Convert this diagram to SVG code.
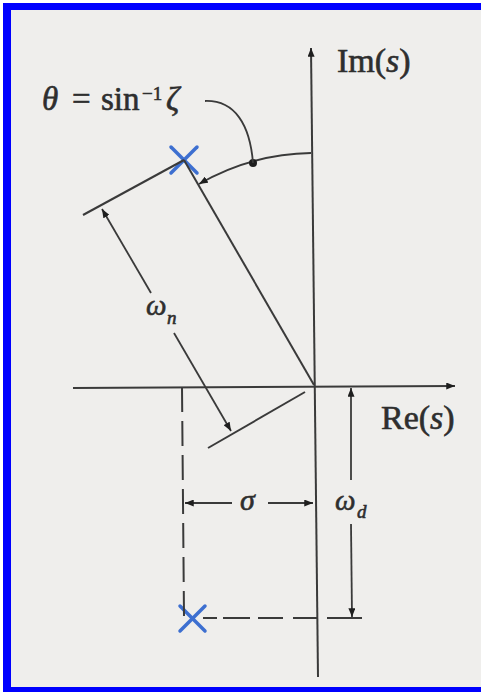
<svg xmlns="http://www.w3.org/2000/svg" width="481" height="692" viewBox="0 0 481 692">
<style>
.ln{stroke:#3a3a3a;stroke-width:2;fill:none;stroke-linecap:butt}
.dim{stroke:#3a3a3a;stroke-width:1.8;fill:none}
.pole{stroke:#3d6fd0;stroke-width:3.5;stroke-linecap:round;fill:none}
.tx{font-family:"Liberation Serif","Times New Roman",serif;fill:#2e2e2e;stroke:#2e2e2e;stroke-width:0.6}
.it{font-style:italic}
</style>
<defs>
<marker id="ah" viewBox="0 0 10 8" refX="10" refY="4" markerWidth="9" markerHeight="7" markerUnits="userSpaceOnUse" orient="auto">
<path d="M0,0 L10,4 L0,8 Z" fill="#1e1e1e"/>
</marker>
</defs>
<rect x="0" y="0" width="481" height="692" fill="#ffffff"/>
<rect x="3" y="3" width="478" height="689" fill="#0000ff"/>
<rect x="11" y="10" width="470" height="677" fill="#efeeec"/>

<g id="im-axis">
<line class="ln" x1="318" y1="677" x2="311" y2="48" marker-end="url(#ah)"/>
<text class="tx" x="337" y="72" font-size="34">Im(<tspan class="it">s</tspan>)</text>
</g>
<g id="re-axis">
<line class="ln" x1="73" y1="388" x2="455" y2="386" marker-end="url(#ah)"/>
<text class="tx" x="381" y="429" font-size="34">Re(<tspan class="it">s</tspan>)</text>
</g>

<g id="pole-upper">
<line class="pole" x1="171" y1="147" x2="197" y2="173"/>
<line class="pole" x1="197" y1="147" x2="171" y2="173"/>
</g>
<g id="pole-lower">
<line class="pole" x1="180" y1="606" x2="205" y2="631"/>
<line class="pole" x1="205" y1="606" x2="180" y2="631"/>
</g>

<g id="theta-label">
<text class="tx" y="110" font-size="33"><tspan class="it" x="42">θ</tspan><tspan x="72">=</tspan><tspan x="101">sin</tspan><tspan x="142" y="100" font-size="19">−1</tspan><tspan class="it" x="166" y="110">ζ</tspan></text>
</g>
<g id="wn-label">
<text class="tx it" x="146" y="315" font-size="29">ω</text>
<text class="tx it" x="167" y="324" font-size="19">n</text>
</g>
<g id="sigma-label">
<text class="tx it" x="240" y="510" font-size="30">σ</text>
</g>
<g id="wd-label">
<text class="tx it" x="335" y="510" font-size="29">ω</text>
<text class="tx it" x="357" y="518" font-size="19">d</text>
</g>

<g id="connectors">
<line class="ln" x1="314" y1="385" x2="184" y2="160"/>
<line class="ln" x1="184" y1="160" x2="83" y2="215"/>
<line class="ln" x1="305" y1="392" x2="208" y2="448"/>
<line class="dim" x1="151" y1="293" x2="102" y2="209" marker-end="url(#ah)"/>
<line class="dim" x1="174" y1="333" x2="231" y2="431" marker-end="url(#ah)"/>
<path class="dim" d="M311,153 A232,232 0 0 0 199,184" marker-end="url(#ah)"/>
<circle cx="253" cy="163" r="4" fill="#1e1e1e"/>
<path class="dim" d="M205,101 C235,100 250,125 253,163"/>
<line class="ln" x1="182" y1="387" x2="184" y2="616" stroke-dasharray="25 9"/>
<path class="ln" d="M203,618 H217 M223,618 H250 M258,618 H283 M293,618 H318"/>
<line class="ln" x1="327" y1="618" x2="362" y2="618"/>
<line class="dim" x1="232" y1="503" x2="185" y2="503" marker-end="url(#ah)"/>
<line class="dim" x1="268" y1="503" x2="313" y2="503" marker-end="url(#ah)"/>
<line class="dim" x1="351" y1="480" x2="351" y2="388" marker-end="url(#ah)"/>
<line class="dim" x1="351" y1="524" x2="352" y2="617" marker-end="url(#ah)"/>
</g>
</svg>
